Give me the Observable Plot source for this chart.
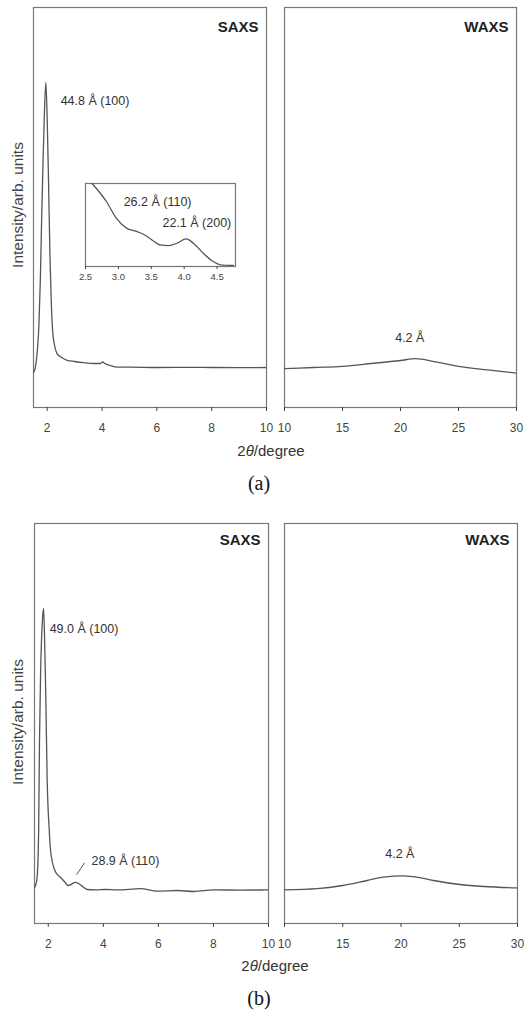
<!DOCTYPE html>
<html><head><meta charset="utf-8">
<script src="https://cdn.jsdelivr.net/npm/d3@7"></script>
<script src="https://cdn.jsdelivr.net/npm/@observablehq/plot@0.6"></script>
<style>
body{margin:0;background:#fff;}
#root{position:relative;width:524px;height:1011px;overflow:hidden;font-family:"Liberation Sans",Arial,sans-serif;color:#333;}
.lab{position:absolute;white-space:nowrap;transform:translate(-50%,-50%);}
.ylab{position:absolute;white-space:nowrap;transform:translate(-50%,-50%) rotate(-90deg);font-size:15.5px;color:#444;}
.xlab{font-size:15px;color:#333;}
.cap{font-family:"Liberation Serif","Times New Roman",serif;font-size:20px;color:#111;}
</style></head><body><div id="root"></div>
<script>
// ---- data ----
const saxsA_x = [1.50,1.55,1.60,1.65,1.70,1.75,1.80,1.85,1.90,1.95,2.00,2.05,2.10,2.15,2.20,2.27,2.35,2.50,2.73,3.00,3.33,3.70,3.95,4.02,4.10,4.30,4.57,5.0,6.0,7.0,8.0,9.0,10.0];
const saxsA_y = [8.75,9.5,11.5,15,21,32,48,62,74,81.3,72,56,38,26,19,15.5,13.6,12.6,11.8,11.5,11.2,11.0,11.0,11.4,11.0,10.5,10.1,10.1,10.0,10.05,10.0,9.95,10.0];
const insetA_x = [2.60,2.82,2.97,3.13,3.25,3.38,3.51,3.63,3.76,3.89,4.03,4.14,4.29,4.44,4.55,4.75];
const insetA_y = [100,78,58,46,42.8,38.8,32,26,25.2,28,33.2,28,16,6,2,1.2];
const waxsA_x = [10,12.5,15,17.5,20,21.3,23,25,27.5,30];
const waxsA_y = [9.7,10.0,10.3,11.0,11.75,12.2,11.4,10.3,9.4,8.6];
const saxsB_x = [1.50,1.55,1.60,1.65,1.68,1.72,1.76,1.80,1.83,1.87,1.91,1.96,2.03,2.08,2.13,2.20,2.30,2.45,2.62,2.71,2.84,2.98,3.10,3.22,3.42,3.70,4.07,4.51,5.35,5.96,6.69,7.29,8.02,9.0,10.0];
const saxsB_y = [9.0,9.8,12,23,45,62,72,77,78.8,70,57,36,24,18.5,16,14,12.5,11.5,10.2,9.5,9.8,10.3,10.0,9.4,8.5,8.4,8.5,8.4,8.7,8.1,8.25,8.0,8.4,8.35,8.4];
const waxsB_x = [10,12.8,15,17.1,18.5,20.2,21.7,22.8,25.05,27.1,30];
const waxsB_y = [8.4,8.7,9.5,10.75,11.6,11.9,11.4,10.75,9.75,9.25,8.9];

const saxsTicks = [2,4,6,8,10];
const waxsTicks = [10,15,20,25,30];
const insetTicks = [2.5,3.0,3.5,4.0,4.5];

const saxsA_notes = [{x:2.49, y:76.75, t:"44.8 Å (100)"}];
const insetA_notes = [{x:3.08, y:78, t:"26.2 Å (110)"},{x:3.67, y:52.8, t:"22.1 Å (200)"}];
const waxsA_notes = [{x:20.8, y:17.5, t:"4.2 Å"}];
const saxsB_notes = [{x:2.05, y:73.75, t:"49.0 Å (100)"},{x:3.57, y:15.75, t:"28.9 Å (110)"}];
const saxsB_leader = [{x1:3.03, y1:12.2, x2:3.32, y2:15.2}];
const waxsB_notes = [{x:19.9, y:17.4, t:"4.2 Å"}];

// ---- drawing ----
const root = document.getElementById("root");
const zip = (xs, ys) => xs.map((x, i) => ({x, y: ys[i]}));
const STYLE = "background:transparent;overflow:visible;max-width:none;font-family:'Liberation Sans',Arial,sans-serif;position:absolute;";

function panel(c) {
  const m = 10;
  const marks = [
    Plot.frame({stroke: "#777", strokeWidth: 1.2}),
    Plot.axisX({ticks: c.ticks, tickSize: c.tickSize ?? 4, tickPadding: c.tickPad ?? 12, fontSize: c.tickFont ?? 12,
      color: "#444", label: null, tickFormat: c.fmt ?? (d => String(d))}),
    Plot.line(zip(c.xs, c.ys), {x: "x", y: "y", stroke: "#555", strokeWidth: 1.3, curve: "monotone-x", clip: true})
  ];
  if (c.title) marks.push(Plot.text([c.title], {frameAnchor: "top-right", text: d => d, dx: -8, dy: c.titleDy,
    fontWeight: "bold", fontSize: 15, fill: "#222"}));
  if (c.notes) marks.push(Plot.text(c.notes, {x: "x", y: "y", text: "t", textAnchor: c.anchor ?? "start",
    lineAnchor: "middle", fontSize: 12.5, fill: "#333"}));
  if (c.leader) marks.push(Plot.link(c.leader, {x1: "x1", y1: "y1", x2: "x2", y2: "y2", stroke: "#555", strokeWidth: 1}));
  const svg = Plot.plot({
    width: c.w + 2 * m, height: c.h + 2 * m,
    marginLeft: m, marginRight: m, marginTop: m, marginBottom: m,
    x: {domain: c.domain}, y: {domain: [0, 100], axis: null},
    style: STYLE + `left:${c.left - m}px;top:${c.top - m}px;`,
    marks
  });
  root.appendChild(svg);
}

// (a)
panel({xs: saxsA_x, ys: saxsA_y, domain: [1.5, 10], ticks: saxsTicks, left: 33, top: 7, w: 233, h: 400,
  title: "SAXS", titleDy: 13.5, notes: saxsA_notes});
panel({xs: insetA_x, ys: insetA_y, domain: [2.5, 4.78], ticks: insetTicks, left: 85, top: 183, w: 150, h: 83,
  tickSize: 3, tickPad: 4, tickFont: 9.5, fmt: d3.format(".1f"), notes: insetA_notes});
panel({xs: waxsA_x, ys: waxsA_y, domain: [10, 30], ticks: waxsTicks, left: 284, top: 7, w: 232, h: 400,
  title: "WAXS", titleDy: 13.5, notes: waxsA_notes, anchor: "middle"});
// (b)
panel({xs: saxsB_x, ys: saxsB_y, domain: [1.5, 10], ticks: saxsTicks, left: 34, top: 523, w: 234, h: 400,
  title: "SAXS", titleDy: 11, notes: saxsB_notes, leader: saxsB_leader});
panel({xs: waxsB_x, ys: waxsB_y, domain: [10, 30], ticks: waxsTicks, left: 284, top: 523, w: 233, h: 400,
  title: "WAXS", titleDy: 11, notes: waxsB_notes, anchor: "middle"});

// text outside the plots
function label(cls, html, x, y) {
  const d = document.createElement("div");
  d.className = cls; d.innerHTML = html;
  d.style.left = x + "px"; d.style.top = y + "px";
  root.appendChild(d);
}
label("ylab", "Intensity/arb. units", 18, 205);
label("ylab", "Intensity/arb. units", 18, 722);
label("lab xlab", "2<i>θ</i>/degree", 271, 450);
label("lab xlab", "2<i>θ</i>/degree", 275, 965);
label("lab cap", "(a)", 259, 483);
label("lab cap", "(b)", 259, 998);
</script></body></html>
